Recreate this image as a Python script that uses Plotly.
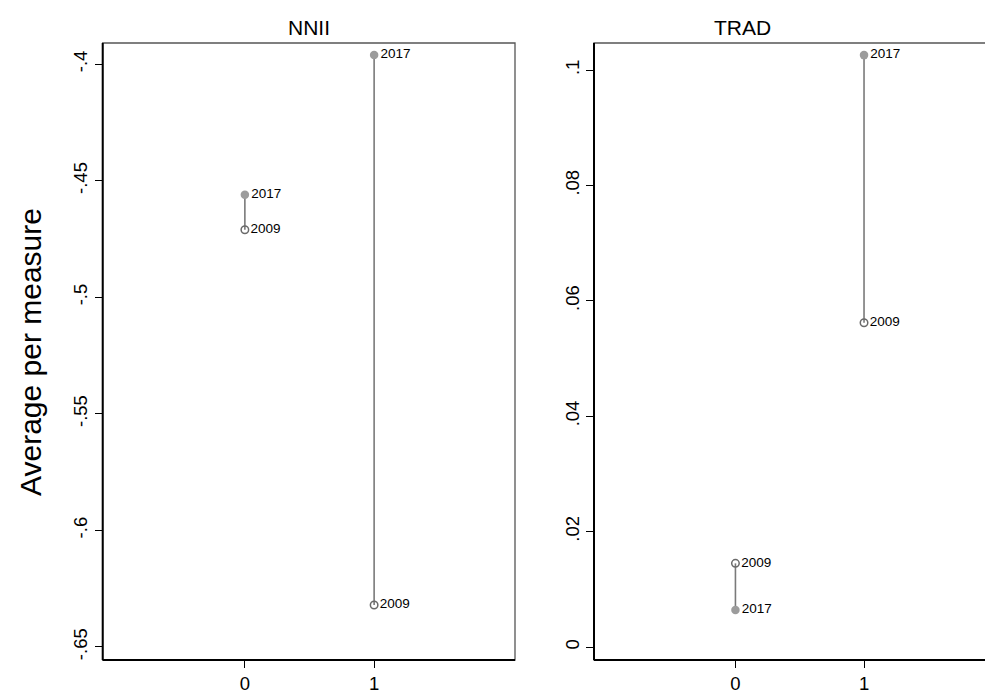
import plotly.graph_objects as go

# ---- data ----
groups = [0, 1]
nnii_2009 = [-0.471, -0.632]
nnii_2017 = [-0.456, -0.396]
trad_2009 = [0.0145, 0.0562]
trad_2017 = [0.0064, 0.1026]

nnii_ticks = [-0.65, -0.6, -0.55, -0.5, -0.45, -0.4]
nnii_ticktext = ["-.65", "-.6", "-.55", "-.5", "-.45", "-.4"]
trad_ticks = [0, 0.02, 0.04, 0.06, 0.08, 0.1]
trad_ticktext = ["0", ".02", ".04", ".06", ".08", ".1"]
x_ticks = [0, 1]
x_ticktext = ["0", "1"]

# page has an 8px body margin; size the figure so it fills the window exactly
OFF = 8
W, H = 993 - OFF, 697 - OFF
FONT = "Liberation Sans, Arial, sans-serif"
LINE_C = "#7a7a7a"
FILL_C = "#9c9c9c"
HOLLOW_C = "#6a6a6a"


def px(x):
    return (x - OFF) / W


def py(y):
    return (697 - y) / H


fig = go.Figure()


def add_panel(xa, ya, v09, v17):
    xs, ys = [], []
    for g, a, b in zip(groups, v09, v17):
        xs += [g, g, None]
        ys += [a, b, None]
    fig.add_trace(go.Scatter(x=xs, y=ys, mode="lines", xaxis=xa, yaxis=ya,
                             line=dict(color=LINE_C, width=1.6), showlegend=False,
                             hoverinfo="skip"))
    fig.add_trace(go.Scatter(x=groups, y=v09, mode="markers+text", xaxis=xa, yaxis=ya,
                             marker=dict(symbol="circle-open", size=7.5, color=HOLLOW_C,
                                         line=dict(width=1.5, color=HOLLOW_C)),
                             text=["2009"] * len(groups), textposition="middle right",
                             textfont=dict(family=FONT, size=13.5, color="black"),
                             showlegend=False))
    fig.add_trace(go.Scatter(x=groups, y=v17, mode="markers+text", xaxis=xa, yaxis=ya,
                             marker=dict(symbol="circle", size=8.5, color=FILL_C),
                             text=["2017"] * len(groups), textposition="middle right",
                             textfont=dict(family=FONT, size=13.5, color="black"),
                             showlegend=False))


add_panel("x", "y", nnii_2009, nnii_2017)
add_panel("x2", "y2", trad_2009, trad_2017)

x1_dom = [px(102.7), px(515)]
x2_dom = [px(594), 1.0]
y_dom = [py(660), py(43)]

axis_common = dict(showgrid=False, zeroline=False, ticks="outside", ticklen=7,
                   tickwidth=1, tickcolor="black", showline=False,
                   tickfont=dict(family=FONT, size=18.5, color="black"))

fig.update_layout(
    width=W, height=H,
    margin=dict(l=0, r=0, t=0, b=0),
    paper_bgcolor="white", plot_bgcolor="white",
    xaxis=dict(domain=x1_dom, range=[-1.1, 2.09], tickvals=x_ticks, ticktext=x_ticktext,
               anchor="y", **axis_common),
    yaxis=dict(domain=y_dom, range=[-0.6556, -0.3909], tickvals=nnii_ticks,
               ticktext=nnii_ticktext, tickangle=-90, anchor="x", **axis_common),
    xaxis2=dict(domain=x2_dom, range=[-1.1, 2.003], tickvals=x_ticks, ticktext=x_ticktext,
                anchor="y2", **axis_common),
    yaxis2=dict(domain=y_dom, range=[-0.00225, 0.1047], tickvals=trad_ticks,
                ticktext=trad_ticktext, tickangle=-90, anchor="x2", **axis_common),
    font=dict(family=FONT, color="black"),
)

# plot-region borders: thin gray box, black left/bottom axis lines
for (x0, x1) in [x1_dom, x2_dom]:
    fig.add_shape(type="rect", xref="paper", yref="paper", x0=x0, x1=x1,
                  y0=y_dom[0], y1=y_dom[1], line=dict(color="#555555", width=1.3))
    fig.add_shape(type="line", xref="paper", yref="paper", x0=x0, x1=x0,
                  y0=y_dom[0], y1=y_dom[1], line=dict(color="black", width=2))
    fig.add_shape(type="line", xref="paper", yref="paper", x0=x0, x1=x1,
                  y0=y_dom[0], y1=y_dom[0], line=dict(color="black", width=2))

# panel titles
fig.add_annotation(x=px(309), y=py(27), xref="paper", yref="paper", text="NNII",
                   xanchor="center", yanchor="middle", showarrow=False,
                   font=dict(family=FONT, size=21, color="black"))
fig.add_annotation(x=px(742), y=py(27), xref="paper", yref="paper", text="TRAD",
                   xanchor="center", yanchor="middle", showarrow=False,
                   font=dict(family=FONT, size=21, color="black"))
# y axis title
fig.add_annotation(x=px(30), y=py(352), xref="paper", yref="paper",
                   text="Average per measure", textangle=-90, showarrow=False,
                   xanchor="center", yanchor="middle",
                   font=dict(family=FONT, size=30, color="black"))

fig.write_html("out.html")
